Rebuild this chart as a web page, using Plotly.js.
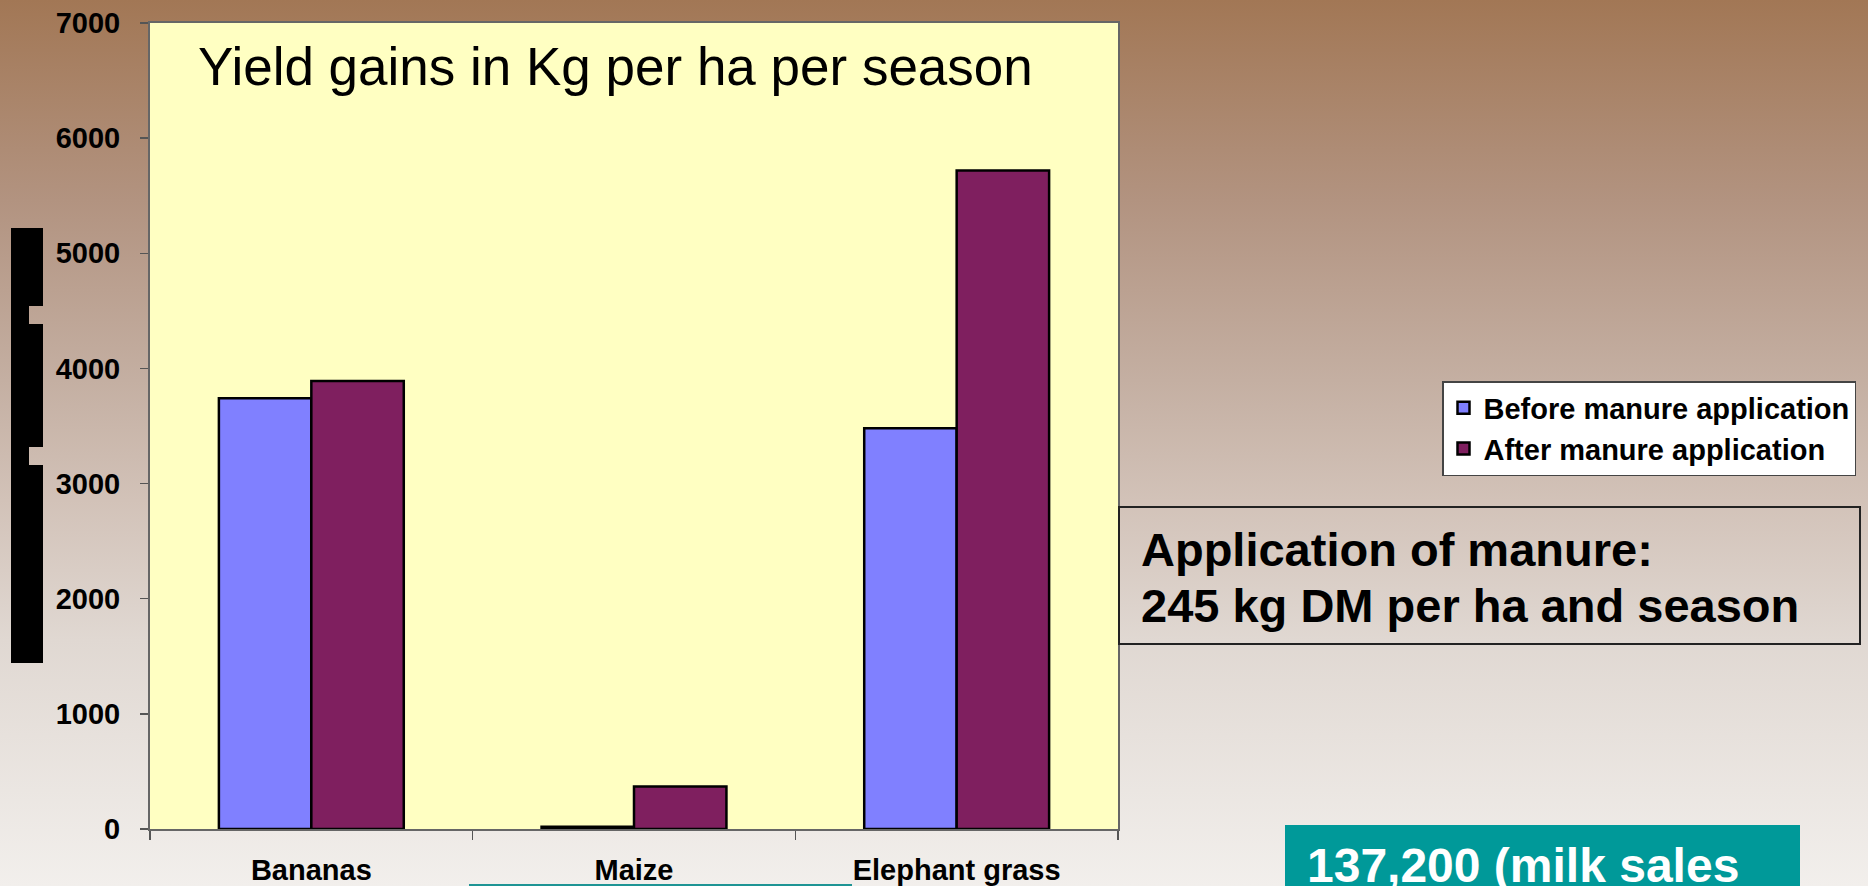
<!DOCTYPE html>
<html>
<head>
<meta charset="utf-8">
<script src="https://cdn.plot.ly/plotly-3.0.1.min.js"></script>
<style>
  html, body { margin: 0; padding: 0; }
  body {
    width: 1868px; height: 886px; overflow: hidden;
    background: linear-gradient(to bottom, #A27755 0px, #B29380 200px, #C4AFA2 380px, #D2C2B8 500px, #E0D8D2 640px, #F2EFEC 886px);
  }
  #chart { width: 1868px; height: 886px; }
</style>
</head>
<body>
<div id="chart"></div>
<script>
// ---- data ----
const categories = ['Bananas', 'Maize', 'Elephant grass'];
const beforeValues = [3740, 20, 3480];
const afterValues = [3890, 370, 5720];
const seriesNames = ['Before manure application', 'After manure application'];
const yTickValues = [0, 1000, 2000, 3000, 4000, 5000, 6000, 7000];
const chartTitle = 'Yield gains in Kg per ha per season';
const noteLines = ['Application of manure:', '245 kg DM per ha and season'];
const tealText = '137,200 (milk sales';

// ---- geometry helpers (pixel -> paper) ----
const W = 1868, H = 886;
const M = { l: 150, r: 750, t: 23, b: 57 };
const PW = W - M.l - M.r, PH = H - M.t - M.b;
const xp = px => (px - M.l) / PW;
const yp = py => 1 - (py - M.t) / PH;

const FONT = 'Liberation Sans, Arial, Helvetica, sans-serif';

const traces = [
  {
    type: 'bar', name: seriesNames[0], x: categories, y: beforeValues,
    marker: { color: '#8080FF', line: { color: '#000000', width: 2.5 } }
  },
  {
    type: 'bar', name: seriesNames[1], x: categories, y: afterValues,
    marker: { color: '#7F1F5F', line: { color: '#000000', width: 2.5 } }
  }
];

function rect(x0, y0, x1, y1, fill, line) {
  return {
    type: 'rect', xref: 'paper', yref: 'paper',
    x0: xp(x0), x1: xp(x1), y0: yp(y1), y1: yp(y0),
    fillcolor: fill, line: line || { width: 0 }, layer: 'above'
  };
}

const shapes = [
  // dark blocks at the left (rendered axis-title artefact)
  rect(11, 228, 43, 306, '#000'),
  rect(11, 306, 29, 324, '#000'),
  rect(11, 324, 43, 447, '#000'),
  rect(11, 447, 29, 465, '#000'),
  rect(11, 465, 43, 663, '#000'),
  // text box border
  rect(1119, 507, 1860, 644, 'rgba(0,0,0,0)', { color: '#222', width: 2 }),
  // teal boxes at the bottom
  rect(1285, 825, 1800, 900, '#009999'),
  rect(469, 884, 852, 900, '#1E9494')
];

const annotations = [
  {
    xref: 'paper', yref: 'paper', x: xp(1141), y: yp(549), xanchor: 'left', yanchor: 'middle',
    text: noteLines[0], showarrow: false, borderpad: 0, borderwidth: 0,
    font: { family: FONT, size: 47, color: '#000', weight: 'bold' }
  },
  {
    xref: 'paper', yref: 'paper', x: xp(1141), y: yp(605.5), xanchor: 'left', yanchor: 'middle',
    text: noteLines[1], showarrow: false, borderpad: 0, borderwidth: 0,
    font: { family: FONT, size: 47, color: '#000', weight: 'bold' }
  },
  {
    xref: 'paper', yref: 'paper', x: xp(1307), y: yp(865), xanchor: 'left', yanchor: 'middle',
    text: tealText, showarrow: false, borderpad: 0, borderwidth: 0,
    font: { family: FONT, size: 48, color: '#FFFFFF', weight: 'bold' }
  }
];

const layout = {
  width: W, height: H,
  margin: { l: M.l, r: M.r, t: M.t, b: M.b, pad: 0 },
  paper_bgcolor: 'rgba(0,0,0,0)',
  plot_bgcolor: '#FFFFC2',
  font: { family: FONT, color: '#000' },
  title: {
    text: chartTitle,
    xref: 'paper', x: xp(198), xanchor: 'left',
    yref: 'container', y: 1 - 66.5 / H, yanchor: 'middle',
    font: { family: FONT, size: 53, color: '#000' }
  },
  barmode: 'group',
  bargap: 0.427,
  bargroupgap: 0,
  xaxis: {
    type: 'category',
    showline: true, linecolor: '#666', linewidth: 2, mirror: true,
    ticks: 'outside', tickson: 'boundaries', ticklen: 9, tickcolor: '#555', tickwidth: 1.5,
    ticklabelstandoff: 14,
    tickfont: { family: FONT, size: 29, color: '#000', weight: 'bold' },
    showgrid: false, zeroline: false, fixedrange: true
  },
  yaxis: {
    range: [0, 7000],
    tickmode: 'array', tickvals: yTickValues, ticktext: yTickValues.map(String),
    showline: true, linecolor: '#666', linewidth: 2, mirror: true,
    ticks: 'outside', ticklen: 8, tickcolor: '#555', tickwidth: 1.5,
    ticklabelstandoff: 14,
    tickfont: { family: FONT, size: 29, color: '#000', weight: 'bold' },
    showgrid: false, zeroline: false, fixedrange: true
  },
  showlegend: true,
  legend: {
    x: xp(1442), xanchor: 'left', y: yp(381), yanchor: 'top',
    bgcolor: '#FFFFFF', bordercolor: '#444', borderwidth: 1.5,
    itemwidth: 30, traceorder: 'normal',
    font: { family: FONT, size: 29, color: '#000', weight: 'bold' }
  },
  shapes: shapes,
  annotations: annotations
};

Plotly.newPlot('chart', traces, layout, { displayModeBar: false, staticPlot: true });
</script>
</body>
</html>
